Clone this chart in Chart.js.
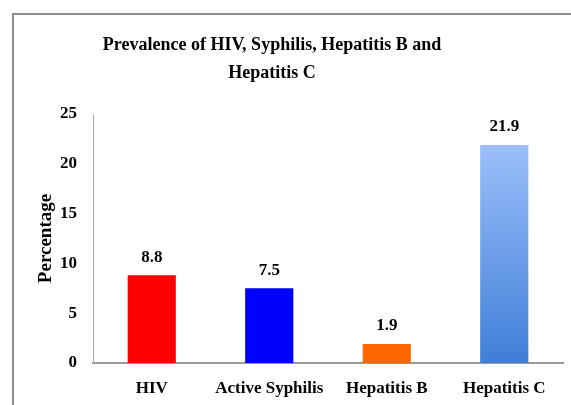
<!DOCTYPE html>
<html>
<head>
<meta charset="utf-8">
<script src="https://cdn.jsdelivr.net/npm/chart.js@4.4.1/dist/chart.umd.min.js"></script>
<style>
  html, body { margin: 0; padding: 0; background: #fff; overflow: hidden; }
  #wrap { position: relative; width: 571px; height: 405px; }
  #frame { position: absolute; left: 12px; top: 13px; width: 600px; height: 420px;
           border-left: 2px solid #8c8c8c; border-top: 2px solid #8c8c8c; }
  canvas { position: absolute; left: 0; top: 0; }
</style>
</head>
<body>
<div id="wrap">
  <div id="frame"></div>
  <canvas id="chart" width="571" height="405"></canvas>
</div>
<script>
// ==================== data ====================
const categories = ['HIV', 'Active Syphilis', 'Hepatitis B', 'Hepatitis C'];
const prevalence = [8.8, 7.5, 1.9, 21.9];
const barColors = ['#ff0000', '#0000ff', '#ff6600', null]; // last one is a gradient
const yTicks = [0, 5, 10, 15, 20, 25];
const titleLines = ['Prevalence of HIV, Syphilis, Hepatitis B and', 'Hepatitis C'];

const FONT = '"Liberation Serif", "DejaVu Serif", serif';

function hepCGradient(ctx) {
  const area = ctx.chart.chartArea;
  const y = ctx.chart.scales.y;
  if (!area || !y) return '#6a9ae8';
  const top = y.getPixelForValue(prevalence[ctx.dataIndex]);
  if (!isFinite(top) || !isFinite(area.bottom)) return '#6a9ae8';
  const g = ctx.chart.ctx.createLinearGradient(0, top, 0, area.bottom);
  g.addColorStop(0, '#9cbffb');
  g.addColorStop(1, '#3f7ed6');
  return g;
}

// value labels above bars + title centred on the frame (not on the plot)
const textPlugin = {
  id: 'textPlugin',
  afterDatasetsDraw(chart) {
    const c = chart.ctx;
    c.save();
    c.font = 'bold 17px ' + FONT;
    c.fillStyle = '#000';
    c.textAlign = 'center';
    c.textBaseline = 'middle';
    chart.getDatasetMeta(0).data.forEach((bar, i) => {
      c.fillText(prevalence[i].toFixed(1), bar.x, bar.y - 18);
    });
    c.font = 'bold 18px ' + FONT;
    titleLines.forEach((t, i) => c.fillText(t, 272, 45 + i * 28));
    c.restore();
  }
};

new Chart(document.getElementById('chart'), {
  type: 'bar',
  data: {
    labels: categories,
    datasets: [{
      data: prevalence,
      backgroundColor: ctx => barColors[ctx.dataIndex] || hepCGradient(ctx),
      barPercentage: 0.41,
      categoryPercentage: 1.0
    }]
  },
  options: {
    responsive: false,
    animation: false,
    layout: { padding: { left: 35, right: 8, top: 114, bottom: 0 } },
    plugins: {
      legend: { display: false },
      tooltip: { enabled: false },
      title: { display: false }
    },
    scales: {
      x: {
        grid: { display: false },
        border: { display: true, color: '#999', width: 2 },
        ticks: { color: '#000', padding: 7, font: { family: FONT, size: 17, weight: 'bold' } },
        afterFit: s => { s.height = 42; }
      },
      y: {
        min: 0, max: 25,
        grid: { display: false },
        border: { display: true, color: '#aaa', width: 1 },
        afterBuildTicks: s => { s.ticks = yTicks.map(v => ({ value: v })); },
        ticks: { color: '#000', padding: 8, font: { family: FONT, size: 17, weight: 'bold' } },
        title: {
          display: true, text: 'Percentage', color: '#000',
          font: { family: FONT, size: 19, weight: 'bold' }, padding: 0
        },
        afterFit: s => { s.width = 58; }
      }
    }
  },
  plugins: [textPlugin]
});
</script>
</body>
</html>
